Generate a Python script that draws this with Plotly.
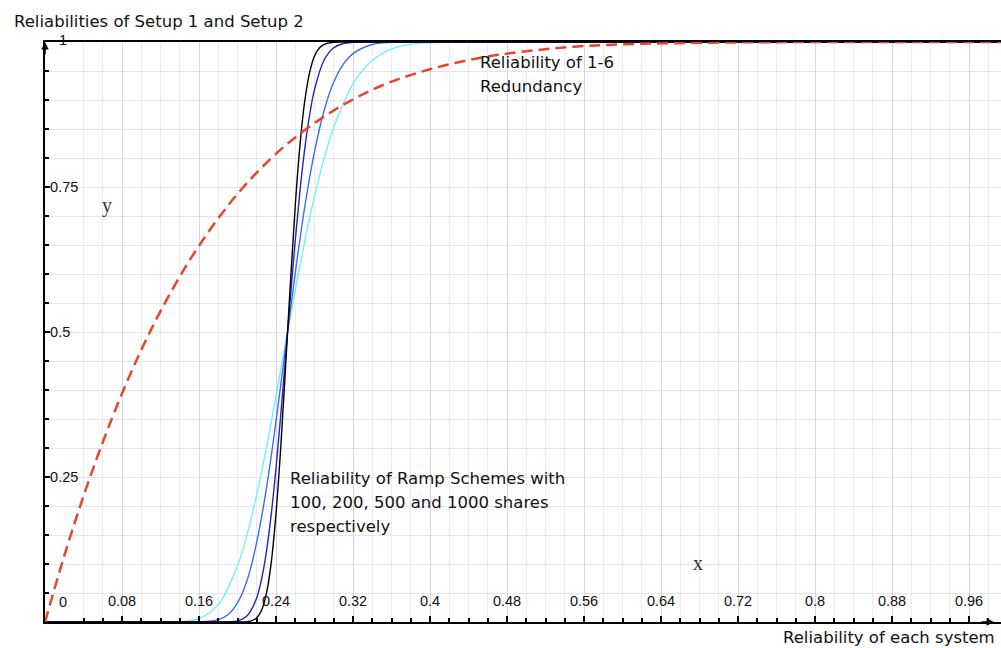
import plotly.graph_objects as go

# ---- data ----
red_x = [0, 0.02, 0.04, 0.06, 0.08, 0.10, 0.12, 0.15, 0.18, 0.21, 0.25, 0.30, 0.35,
         0.40, 0.45, 0.50, 0.55, 0.60, 0.70, 0.80, 0.90, 1.0]
red_y = [0, 0.114, 0.217, 0.310, 0.394, 0.469, 0.536, 0.623, 0.696, 0.757, 0.822, 0.882,
         0.925, 0.953, 0.972, 0.984, 0.992, 0.996, 0.999, 1.0, 1.0, 1.0]

n100_x = [0, 0.10, 0.12, 0.14, 0.16, 0.18, 0.20, 0.21, 0.22, 0.23, 0.24, 0.25, 0.26, 0.27,
          0.28, 0.29, 0.30, 0.32, 0.34, 0.36, 0.38, 0.40, 0.44, 0.50, 1.0]
n100_y = [0, 0, 0.00002, 0.0006, 0.006, 0.030, 0.097, 0.151, 0.220, 0.300, 0.389, 0.482,
          0.572, 0.657, 0.734, 0.799, 0.853, 0.928, 0.968, 0.988, 0.996, 0.9987, 1.0, 1.0, 1.0]

n200_x = [0, 0.12, 0.16, 0.18, 0.19, 0.20, 0.21, 0.22, 0.23, 0.24, 0.25, 0.26, 0.27, 0.28,
          0.29, 0.30, 0.31, 0.32, 0.34, 0.36, 0.40, 0.50, 1.0]
n200_y = [0, 0, 0.0002, 0.004, 0.0125, 0.033, 0.072, 0.138, 0.230, 0.346, 0.474, 0.602,
          0.717, 0.811, 0.882, 0.931, 0.962, 0.980, 0.9957, 0.9993, 1.0, 1.0, 1.0]

n500_x = [0, 0.15, 0.19, 0.20, 0.21, 0.22, 0.225, 0.23, 0.235, 0.24, 0.245, 0.25, 0.255,
          0.26, 0.265, 0.27, 0.275, 0.28, 0.29, 0.30, 0.31, 0.32, 0.34, 0.50, 1.0]
n500_y = [0, 0, 0.0002, 0.0018, 0.0107, 0.042, 0.074, 0.121, 0.185, 0.265, 0.358, 0.459,
          0.561, 0.658, 0.745, 0.818, 0.875, 0.918, 0.969, 0.990, 0.9974, 0.9994, 1.0, 1.0, 1.0]

n1000_x = [0, 0.18, 0.20, 0.21, 0.215, 0.22, 0.225, 0.23, 0.235, 0.24, 0.245, 0.25, 0.255,
           0.26, 0.265, 0.27, 0.275, 0.28, 0.285, 0.29, 0.30, 0.32, 0.50, 1.0]
n1000_y = [0, 0, 0, 0.0006, 0.0022, 0.0073, 0.0204, 0.049, 0.102, 0.187, 0.303, 0.442,
           0.586, 0.718, 0.824, 0.900, 0.948, 0.976, 0.9896, 0.996, 0.9995, 1.0, 1.0, 1.0]

x_ticks = [0.08, 0.16, 0.24, 0.32, 0.4, 0.48, 0.56, 0.64, 0.72, 0.8, 0.88, 0.96]
x_tick_text = ["0.08", "0.16", "0.24", "0.32", "0.4", "0.48", "0.56", "0.64", "0.72",
               "0.8", "0.88", "0.96"]
y_ticks = [0.25, 0.5, 0.75]
y_tick_text = ["0.25", "0.5", "0.75"]

title_text = "Reliabilities of Setup 1 and Setup 2"
xlabel_text = "Reliability of each system"
red_note_lines = ["Reliability of 1-6", "Redundancy"]
red_note_y = [0.9655, 0.9241]
ramp_note_lines = ["Reliability of Ramp Schemes with", "100, 200, 500 and 1000 shares",
                   "respectively"]
ramp_note_y = [0.2466, 0.2069, 0.1655]

fig = go.Figure()
line_w = 1.4
fig.add_trace(go.Scatter(x=n100_x, y=n100_y, mode="lines", line=dict(color="#72f2f7", width=line_w, shape="spline")))
fig.add_trace(go.Scatter(x=n200_x, y=n200_y, mode="lines", line=dict(color="#3d6cf5", width=line_w, shape="spline")))
fig.add_trace(go.Scatter(x=n500_x, y=n500_y, mode="lines", line=dict(color="#2424c0", width=line_w, shape="spline")))
fig.add_trace(go.Scatter(x=n1000_x, y=n1000_y, mode="lines", line=dict(color="#000000", width=line_w, shape="spline")))
fig.add_trace(go.Scatter(x=red_x, y=red_y, mode="lines",
                         line=dict(color="#e8442e", width=2.5, dash="11px,6px", shape="spline")))

font_main = "DejaVu Sans, Lato, sans-serif"
text_font = dict(family=font_main, size=16.5, color="#111")
tick_font = dict(family="Liberation Sans, Arial, sans-serif", size=14.5, color="#111111")

annotations = [
    dict(text=title_text, xref="paper", yref="paper", x=-0.035, y=1.0, yshift=21,
         xanchor="left", yanchor="middle", showarrow=False, font=text_font),
    dict(text=xlabel_text, xref="paper", yref="paper", x=1.0, y=0, yshift=-15, xshift=-4,
         xanchor="right", yanchor="middle", showarrow=False, font=text_font),
    dict(text="0", xref="x", yref="y", x=0, y=0, xshift=18, yshift=20,
         xanchor="center", yanchor="middle", showarrow=False, font=tick_font),
    dict(text="1", xref="x", yref="y", x=0, y=1, xshift=18, yshift=2,
         xanchor="center", yanchor="middle", showarrow=False, font=tick_font),
    dict(text="y", xref="x", yref="y", x=0.064, y=0.718, showarrow=False,
         font=dict(family="Liberation Serif, DejaVu Serif, serif", size=20, color="#333"),
         xanchor="center", yanchor="middle"),
    dict(text="x", xref="x", yref="y", x=0.678, y=0.102, showarrow=False,
         font=dict(family="Liberation Serif, DejaVu Serif, serif", size=20, color="#333"),
         xanchor="center", yanchor="middle"),
    # axis arrowheads
    dict(x=0, y=1, xref="x", yref="y", ax=0, ay=14, showarrow=True, arrowhead=2,
         arrowsize=1, arrowwidth=1.5, arrowcolor="#000", text=""),
    dict(x=0.986, y=0, xref="x", yref="y", ax=-14, ay=0, showarrow=True, arrowhead=2,
         arrowsize=1, arrowwidth=1.5, arrowcolor="#000", text=""),
]
for line, yy in zip(red_note_lines, red_note_y):
    annotations.append(dict(text=line, xref="x", yref="y", x=0.4495, y=yy, showarrow=False,
                            xanchor="left", yanchor="middle", font=text_font))
for line, yy in zip(ramp_note_lines, ramp_note_y):
    annotations.append(dict(text=line, xref="x", yref="y", x=0.2525, y=yy, showarrow=False,
                            xanchor="left", yanchor="middle", font=text_font))

fig.update_layout(
    width=1001, height=648,
    margin=dict(l=45, r=0, t=42, b=26),
    paper_bgcolor="white", plot_bgcolor="white",
    showlegend=False,
    xaxis=dict(
        range=[0, 0.9932], tickvals=x_ticks, ticktext=x_tick_text,
        ticklabelposition="inside", ticklabelstandoff=7, tickfont=tick_font,
        ticks="inside", ticklen=6, tickcolor="#000", tickwidth=1.5,
        showgrid=True, gridcolor="#d6d6d6", gridwidth=1,
        minor=dict(dtick=0.02, tick0=0, showgrid=True, gridcolor="#ececec", gridwidth=1,
                   ticks="inside", ticklen=4, tickcolor="#000"),
        showline=True, linecolor="#000", linewidth=2, mirror=True,
        zeroline=False, fixedrange=True,
    ),
    yaxis=dict(
        range=[0, 1], tickvals=y_ticks, ticktext=y_tick_text,
        ticklabelposition="inside", ticklabelstandoff=0, tickfont=tick_font,
        ticks="inside", ticklen=5, tickcolor="#000", tickwidth=1.5,
        showgrid=True, gridcolor="#e4e4e4", gridwidth=1,
        minor=dict(dtick=0.05, tick0=0, showgrid=True, gridcolor="#e4e4e4", gridwidth=1,
                   ticks="inside", ticklen=4, tickcolor="#000"),
        showline=True, linecolor="#000", linewidth=2,
        zeroline=False, fixedrange=True,
    ),
    annotations=annotations,
)

fig.write_html("out.html")
